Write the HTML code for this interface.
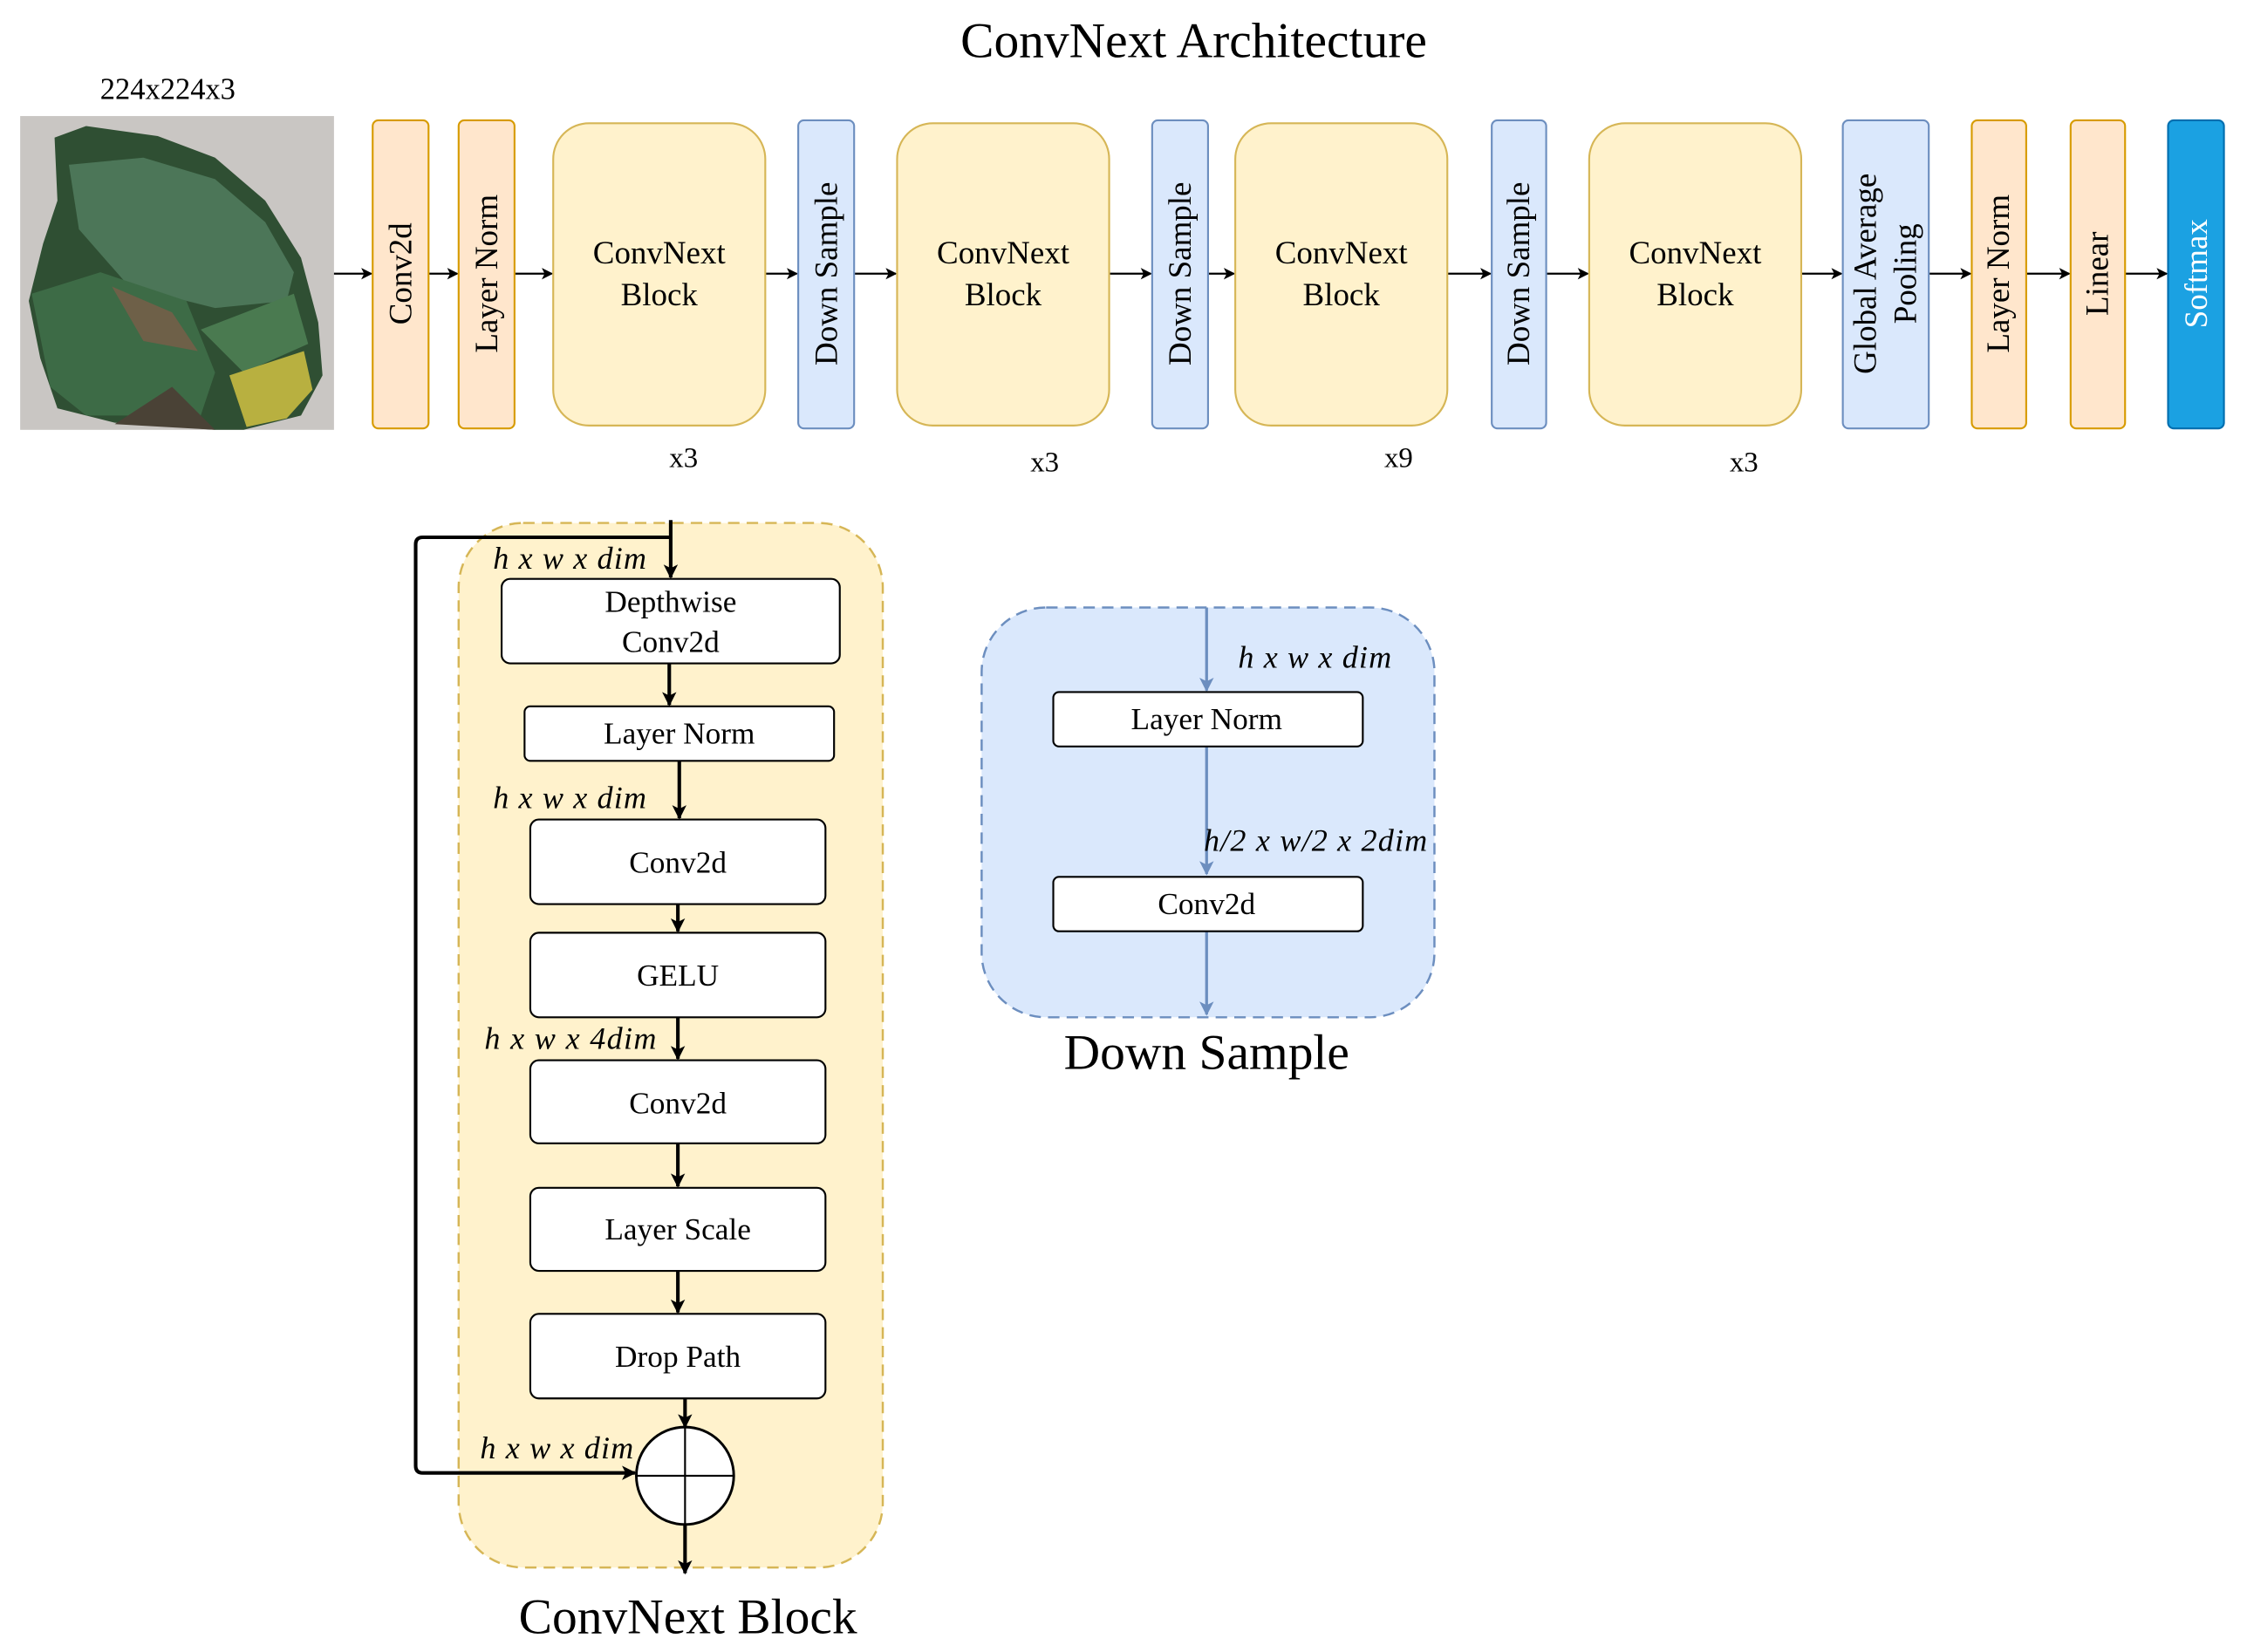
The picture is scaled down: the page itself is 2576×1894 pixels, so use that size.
<!DOCTYPE html>
<html><head><meta charset="utf-8"><style>
html,body{margin:0;padding:0;background:#fff;}
svg{display:block;}
text{font-family:"Liberation Serif",serif;fill:#000;}
</style></head><body>
<svg width="2576" height="1894" viewBox="0 0 1568 1153" xmlns="http://www.w3.org/2000/svg">
<defs>
<marker id="a" markerWidth="8" markerHeight="8" refX="7" refY="4" orient="auto" markerUnits="userSpaceOnUse"><path d="M0,0 L8,4 L0,8 L2,4 z" fill="#000"/></marker>
<marker id="b" markerWidth="10" markerHeight="10" refX="9" refY="5" orient="auto" markerUnits="userSpaceOnUse"><path d="M0,0 L10,5 L0,10 L2.5,5 z" fill="#000"/></marker>
<marker id="c" markerWidth="10" markerHeight="10" refX="9" refY="5" orient="auto" markerUnits="userSpaceOnUse"><path d="M0,0 L10,5 L0,10 L2.5,5 z" fill="#6C8EBF"/></marker>
</defs>
<text x="833" y="40" font-size="35" text-anchor="middle">ConvNext Architecture</text>
<text x="117" y="69" font-size="21" text-anchor="middle">224x224x3</text>
<!-- leaf -->
<rect x="14" y="81" width="219" height="219" fill="#c9c6c3"/>
<path d="M38,96 L60,88 L110,95 L150,110 L185,140 L210,180 L222,225 L225,262 L210,290 L170,300 L150,300 L80,295 L40,285 L28,250 L20,210 L30,170 L40,140 Z" fill="#2f4f33"/>
<path d="M48,115 L100,110 L150,125 L185,155 L205,190 L200,210 L150,215 L90,200 L55,160 Z" fill="#4c7658"/>
<path d="M22,205 L70,190 L130,210 L150,260 L140,290 L60,290 L35,270 Z" fill="#3d6b46"/>
<path d="M140,230 L205,205 L215,240 L170,260 Z" fill="#4a7a50"/>
<path d="M160,262 L212,245 L218,272 L200,292 L172,298 Z" fill="#b8b040"/>
<path d="M78,200 L120,218 L138,245 L100,238 Z" fill="#6e6048"/>
<path d="M120,270 L150,300 L80,296 Z" fill="#4a4236"/>
<g stroke="#000" stroke-width="1.3" fill="none" marker-end="url(#a)">
<line x1="233" y1="191" x2="259" y2="191"/>
<line x1="299" y1="191" x2="319" y2="191"/>
<line x1="359" y1="191" x2="385" y2="191"/>
<line x1="534" y1="191" x2="556" y2="191"/>
<line x1="596" y1="191" x2="625" y2="191"/>
<line x1="774" y1="191" x2="803" y2="191"/>
<line x1="843" y1="191" x2="861" y2="191"/>
<line x1="1010" y1="191" x2="1040" y2="191"/>
<line x1="1079" y1="191" x2="1108" y2="191"/>
<line x1="1257" y1="191" x2="1285" y2="191"/>
<line x1="1346" y1="191" x2="1375" y2="191"/>
<line x1="1414" y1="191" x2="1444" y2="191"/>
<line x1="1483" y1="191" x2="1512" y2="191"/>
</g>
<g stroke-width="1.3">
<rect x="260" y="84" width="39" height="215" rx="4" fill="#FFE6CC" stroke="#D79B00"/>
<rect x="320" y="84" width="39" height="215" rx="4" fill="#FFE6CC" stroke="#D79B00"/>
<rect x="386" y="86" width="148" height="211" rx="25" fill="#FFF2CC" stroke="#D6B656"/>
<rect x="557" y="84" width="39" height="215" rx="4" fill="#DAE8FC" stroke="#6C8EBF"/>
<rect x="626" y="86" width="148" height="211" rx="25" fill="#FFF2CC" stroke="#D6B656"/>
<rect x="804" y="84" width="39" height="215" rx="4" fill="#DAE8FC" stroke="#6C8EBF"/>
<rect x="862" y="86" width="148" height="211" rx="25" fill="#FFF2CC" stroke="#D6B656"/>
<rect x="1041" y="84" width="38" height="215" rx="4" fill="#DAE8FC" stroke="#6C8EBF"/>
<rect x="1109" y="86" width="148" height="211" rx="25" fill="#FFF2CC" stroke="#D6B656"/>
<rect x="1286" y="84" width="60" height="215" rx="4" fill="#DAE8FC" stroke="#6C8EBF"/>
<rect x="1376" y="84" width="38" height="215" rx="4" fill="#FFE6CC" stroke="#D79B00"/>
<rect x="1445" y="84" width="38" height="215" rx="4" fill="#FFE6CC" stroke="#D79B00"/>
<rect x="1513" y="84" width="39" height="215" rx="4" fill="#1BA1E2" stroke="#006EAF"/>
</g>
<g font-size="22.5" text-anchor="middle">
<text transform="translate(287,191) rotate(-90)">Conv2d</text>
<text transform="translate(347,191) rotate(-90)">Layer Norm</text>
<text transform="translate(584,191) rotate(-90)">Down Sample</text>
<text transform="translate(831,191) rotate(-90)">Down Sample</text>
<text transform="translate(1067,191) rotate(-90)">Down Sample</text>
<text transform="translate(1309,191) rotate(-90)">Global Average</text>
<text transform="translate(1337,191) rotate(-90)">Pooling</text>
<text transform="translate(1402,191) rotate(-90)">Layer Norm</text>
<text transform="translate(1471,191) rotate(-90)">Linear</text>
<text transform="translate(1540,191) rotate(-90)" style="fill:#fff">Softmax</text>
<text x="460" y="184">ConvNext</text><text x="460" y="213">Block</text>
<text x="700" y="184">ConvNext</text><text x="700" y="213">Block</text>
<text x="936" y="184">ConvNext</text><text x="936" y="213">Block</text>
<text x="1183" y="184">ConvNext</text><text x="1183" y="213">Block</text>
<text x="477" y="326" font-size="20">x3</text>
<text x="729" y="329" font-size="20">x3</text>
<text x="976" y="326" font-size="20">x9</text>
<text x="1217" y="329" font-size="20">x3</text>
</g>
<!-- ConvNext block detail -->
<rect x="320" y="365" width="296" height="729" rx="45" fill="#FFF2CC" stroke="#D6B656" stroke-width="1.5" stroke-dasharray="8,5"/>
<g stroke="#000" stroke-width="2.5" fill="none" marker-end="url(#b)">
<line x1="468" y1="363" x2="468" y2="403"/>
<line x1="467" y1="463" x2="467" y2="492"/>
<line x1="474" y1="531" x2="474" y2="571"/>
<line x1="473" y1="631" x2="473" y2="650"/>
<line x1="473" y1="710" x2="473" y2="739"/>
<line x1="473" y1="798" x2="473" y2="828"/>
<line x1="473" y1="887" x2="473" y2="916"/>
<line x1="478" y1="976" x2="478" y2="996"/>
<line x1="478" y1="1064" x2="478" y2="1098"/>
<path d="M468,375 L295,375 Q290,375 290,380 L290,1023 Q290,1028 295,1028 L443,1028"/>
</g>
<g fill="#fff" stroke="#000" stroke-width="1.3">
<rect x="350" y="404" width="236" height="59" rx="6"/>
<rect x="366" y="493" width="216" height="38" rx="4"/>
<rect x="370" y="572" width="206" height="59" rx="6"/>
<rect x="370" y="651" width="206" height="59" rx="6"/>
<rect x="370" y="740" width="206" height="58" rx="6"/>
<rect x="370" y="829" width="206" height="58" rx="6"/>
<rect x="370" y="917" width="206" height="59" rx="6"/>
<circle cx="478" cy="1030" r="34" stroke-width="1.8"/>
<line x1="444" y1="1030" x2="512" y2="1030"/><line x1="478" y1="996" x2="478" y2="1064"/>
</g>
<g font-size="21.5" text-anchor="middle">
<text x="468" y="427">Depthwise</text><text x="468" y="455">Conv2d</text>
<text x="474" y="519">Layer Norm</text>
<text x="473" y="609">Conv2d</text>
<text x="473" y="688">GELU</text>
<text x="473" y="777">Conv2d</text>
<text x="473" y="865">Layer Scale</text>
<text x="473" y="954">Drop Path</text>
</g>
<g font-size="22" font-style="italic">
<text x="344" y="397" textLength="107">h x w x dim</text>
<text x="344" y="564" textLength="107">h x w x dim</text>
<text x="338" y="732" textLength="120">h x w x 4dim</text>
<text x="335" y="1018" textLength="107">h x w x dim</text>
</g>
<text x="480" y="1140" font-size="35" text-anchor="middle">ConvNext Block</text>
<!-- Down sample detail -->
<rect x="685" y="424" width="316" height="286" rx="45" fill="#DAE8FC" stroke="#6C8EBF" stroke-width="1.5" stroke-dasharray="8,5"/>
<g stroke="#6C8EBF" stroke-width="2" marker-end="url(#c)">
<line x1="842" y1="424" x2="842" y2="482"/>
<line x1="842" y1="521" x2="842" y2="610"/>
<line x1="842" y1="650" x2="842" y2="708"/>
</g>
<rect x="735" y="483" width="216" height="38" rx="4" fill="#fff" stroke="#000" stroke-width="1.3"/>
<rect x="735" y="612" width="216" height="38" rx="4" fill="#fff" stroke="#000" stroke-width="1.3"/>
<text x="842" y="509" font-size="21.5" text-anchor="middle">Layer Norm</text>
<text x="842" y="638" font-size="21.5" text-anchor="middle">Conv2d</text>
<text x="864" y="466" font-size="22" font-style="italic" textLength="107">h x w x dim</text>
<text x="840" y="594" font-size="22" font-style="italic" textLength="156">h/2 x w/2 x 2dim</text>
<text x="842" y="746" font-size="35" text-anchor="middle">Down Sample</text>
</svg>
</body></html>
